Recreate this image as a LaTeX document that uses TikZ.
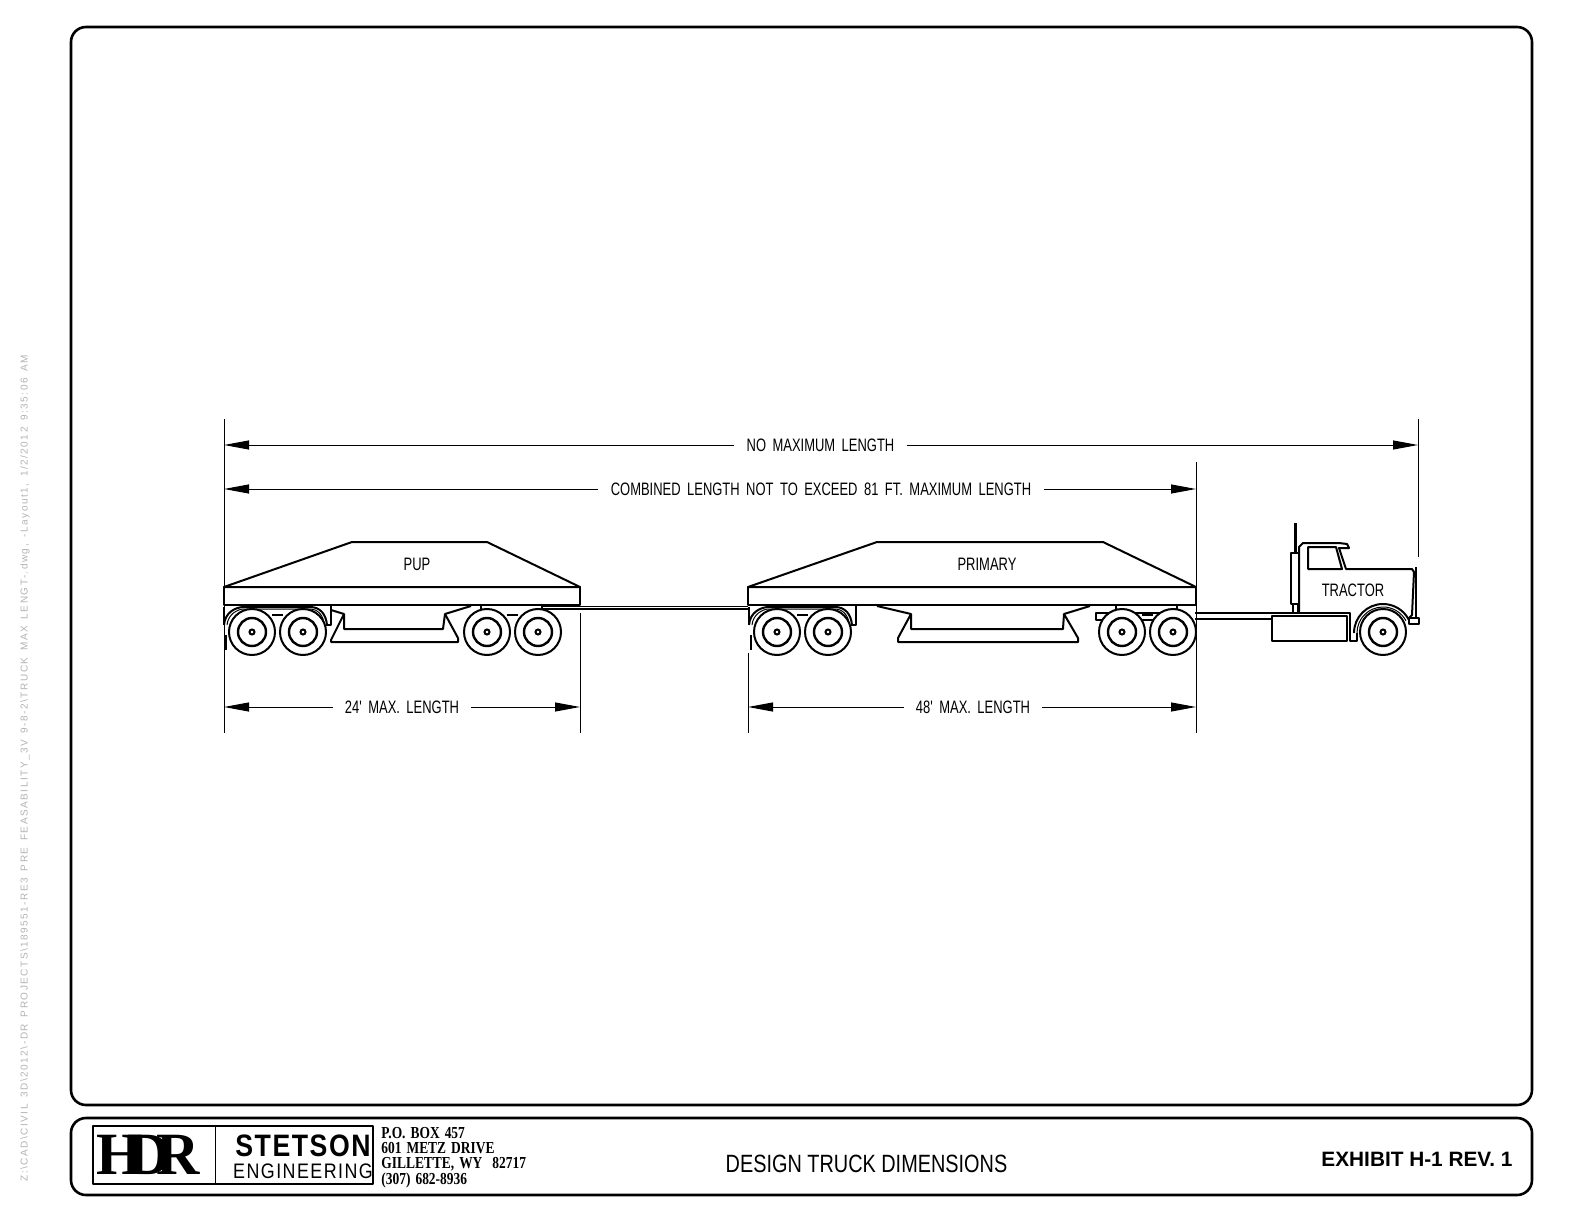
\documentclass[tikz,border=0pt]{standalone}
\usepackage{fontspec}
\usepackage{tikz}
\usetikzlibrary{arrows.meta}
\newfontfamily\fontCote[FakeStretch=0.72,WordSpace=1.8]{Liberation Sans}
\newfontfamily\fontTitre[FakeStretch=0.795]{Liberation Sans}
\newfontfamily\fontExhibit{Liberation Sans}
\newfontfamily\fontLogo{Liberation Serif}
\newfontfamily\fontStetson[FakeStretch=0.86,LetterSpace=5]{Liberation Sans}
\newfontfamily\fontEng[FakeStretch=0.85,LetterSpace=7]{Liberation Sans}
\newfontfamily\fontAdresse[FakeStretch=0.8,WordSpace=1.5]{Liberation Serif}
\newfontfamily\fontChemin[LetterSpace=15,WordSpace=1.6]{Liberation Sans}
\newcommand*{\Rayon}{23}
\newcommand*{\rayonJante}{14}
\newcommand*{\rayonMoyeu}{2.5}
\newcommand*{\entreRoues}{51}
\tikzset{
	trait/.style={line width=1pt,line join=round},
	cote/.style={line width=0.5pt},
	fleche/.style={line width=0.5pt,-{Triangle[length=12.5pt,width=4.5pt]}},
	texteCote/.style={font=\fontCote\fontsize{9}{9}\selectfont,inner xsep=6pt,inner ysep=0pt},
	roue/.pic ={
		\draw[trait,fill=white](0,0) circle(\Rayon);
		\draw[line width=1.2pt](0,0) circle(\rayonJante);
		\draw[line width=1pt](0,0) circle(\rayonMoyeu);
	},
	aile/.pic ={
		\draw[trait](-28,25)--(-28,7);
		\draw[trait](79,27)--(79,7)--(74,7);
		\draw[trait](-28,7) .. controls (-27,20) and (-16,25) .. (-8,25)--(58,25) .. controls (68,25) and (74,18) .. (75,7);
		\draw[cote](-25,7) .. controls (-24,18) and (-14,23) .. (-8,23)--(58,23) .. controls (66,23) and (72,16) .. (72,7);
		\draw[trait](20,17)--(31,17);
		\draw[line width=1.3pt](-26,-3)--(-26,-18);
		\pic at (0,0){roue};
		\pic at (\entreRoues,0){roue};
	},
	bogie/.pic ={
		\draw[trait](-6,27)--(-6,23);
		\draw[trait](55,27)--(55,23);
		\draw[trait](20,17)--(31,17);
		\pic at (0,0){roue};
		\pic at (\entreRoues,0){roue};
	}
}
\begin{document}
\begin{tikzpicture}[x=0.5pt,y=0.5pt]
	\useasboundingbox (0,0) rectangle (1591,-1230);
	% cadres
	\draw[line width=1.3pt,rounded corners=7.5pt] (71,-27) rectangle (1532,-1105);
	\draw[line width=1.3pt,rounded corners=7.5pt] (71,-1118) rectangle (1532,-1195);
	% cotes
	\coordinate(A) at (224,-419);
	\coordinate(Abas) at (224,-733);
	\coordinate(B) at (1418,-419);
	\coordinate(Bbas) at (1418,-557);
	\coordinate(C) at (1196,-462);
	\coordinate(Cbas) at (1196,-733);
	\coordinate(D) at (580,-613);
	\coordinate(Dbas) at (580,-733);
	\coordinate(E) at (748,-653);
	\coordinate(Ebas) at (748,-733);
	\draw[cote] (A)--(Abas);
	\draw[cote] (B)--(Bbas);
	\draw[cote] (C)--(Cbas);
	\draw[cote] (D)--(Dbas);
	\draw[cote] (E)--(Ebas);
	\node[texteCote](noMax) at (820.5,-445){NO MAXIMUM LENGTH};
	\node[texteCote](combine) at (821,-489){COMBINED LENGTH NOT TO EXCEED 81 FT. MAXIMUM LENGTH};
	\node[texteCote](maxPup) at (402,-707){24' MAX. LENGTH};
	\node[texteCote](maxPrim) at (973,-707){48' MAX. LENGTH};
	\draw[fleche] (noMax.west)--(224,-445);
	\draw[fleche] (noMax.east)--(1418,-445);
	\draw[fleche] (combine.west)--(224,-489);
	\draw[fleche] (combine.east)--(1196,-489);
	\draw[fleche] (maxPup.west)--(224,-707);
	\draw[fleche] (maxPup.east)--(580,-707);
	\draw[fleche] (maxPrim.west)--(748,-707);
	\draw[fleche] (maxPrim.east)--(1196,-707);
	% pup
	\draw[trait] (224,-587)--(352,-542)--(487,-542)--(580,-587)--cycle;
	\draw[trait] (224,-587) rectangle (580,-605);
	\draw[trait] (331,-610)--(344,-614)--(344,-629)--(443,-629)--(445,-614)--(471,-606);
	\draw[trait] (344,-614)--(331,-640)--(331,-642)--(458,-642)--(458,-638)--(445,-614);
	\pic at (252,-632){aile};
	\pic at (487,-632){bogie};
	\node[texteCote](pup) at (417,-564){PUP};
	% timon
	\draw[cote] (543,-606)--(748,-606);
	\draw[trait] (543,-609)--(748,-609);
	% primary
	\draw[trait] (748,-587)--(877,-542)--(1103,-542)--(1196,-587)--cycle;
	\draw[trait] (748,-587) rectangle (1196,-605);
	\draw[trait] (877,-606)--(911,-614)--(911,-629)--(1063,-629)--(1064,-614)--(1090,-606);
	\draw[trait] (911,-614)--(898,-638)--(898,-642)--(1078,-642)--(1078,-638)--(1064,-614);
	\draw[trait] (1122,-613)--(1096,-613)--(1096,-620)--(1172,-620);
	\draw[trait] (1122,-613)--(1172,-613);
	\pic at (777,-632){aile};
	\pic at (1122,-632){bogie};
	\node[texteCote](primary) at (987,-564){PRIMARY};
	% tractor
	\draw[trait] (1195,-613)--(1350,-613)--(1350,-641)--(1357,-641)--(1357,-633);
	\draw[trait] (1195,-619)--(1272,-619);
	\draw[trait] (1272,-616) rectangle (1347,-641);
	\draw[line width=1.5pt] (1295,-523)--(1295,-553);
	\draw[trait] (1291,-553) rectangle (1299,-604);
	\draw[trait] (1293,-604)--(1293,-612);
	\draw[trait] (1298,-604)--(1298,-612);
	\draw[trait] (1299,-612)--(1299,-547)--(1303,-543)--(1339,-543)--(1347,-544)--(1349,-548)--(1339,-548)--(1346,-569)--(1412,-569)--(1414,-572)--(1412,-615)--(1409,-618);
	\draw[trait] (1308,-547)--(1336,-547)--(1342,-569)--(1308,-569)--cycle;
	\draw[line width=1.3pt] (1416,-567)--(1416,-618);
	\draw[trait] (1409,-618) rectangle (1419,-624);
	\draw[trait] (1354,-633) arc (180:28:29);
	\draw[cote] (1357,-633) arc (180:28:26);
	\pic at (1383,-632){roue};
	\node[texteCote](tractor) at (1353,-590){TRACTOR};
	% cartouche
	\draw[trait] (93,-1126) rectangle (373,-1184);
	\draw[cote] (215,-1126)--(215,-1184);
	\node[font=\fontLogo\fontsize{30}{30}\selectfont\bfseries,inner sep=0pt](hdr) at (148,-1155){H\kern-8pt D\kern-7pt R};
	\node[font=\fontStetson\fontsize{15.5}{15.5}\selectfont\bfseries,inner sep=0pt](stetson) at (303,-1146){STETSON};
	\node[font=\fontEng\fontsize{10.5}{10.5}\selectfont,inner sep=0pt](engineering) at (303,-1171){ENGINEERING};
	\node[font=\fontAdresse\fontsize{8.4}{7.6}\selectfont\bfseries,align=left,anchor=north west,inner sep=0pt](adresse) at (381,-1127){P.O. BOX 457\\601 METZ DRIVE\\GILLETTE, WY\ \ 82717\\(307) 682-8936};
	\node[font=\fontTitre\fontsize{12.5}{12.5}\selectfont,inner sep=0pt](titre) at (866.5,-1163.5){DESIGN TRUCK DIMENSIONS};
	\node[font=\fontExhibit\fontsize{10.4}{10.4}\selectfont\bfseries,inner sep=0pt](exhibit) at (1417,-1159.5){EXHIBIT H-1 REV. 1};
	% chemin du fichier
	\node[font=\fontChemin\fontsize{5}{5}\selectfont,text=black!30,rotate=90,inner sep=0pt](chemin) at (25,-768){Z:\textbackslash CAD\textbackslash CIVIL 3D\textbackslash 2012\textbackslash-DR PROJECTS\textbackslash 189551-RE3 PRE FEASABILITY\_3V 9-8-2\textbackslash TRUCK MAX LENGT-.dwg, -Layout1, 1/2/2012 9:35:06 AM};
\end{tikzpicture}
\end{document}
